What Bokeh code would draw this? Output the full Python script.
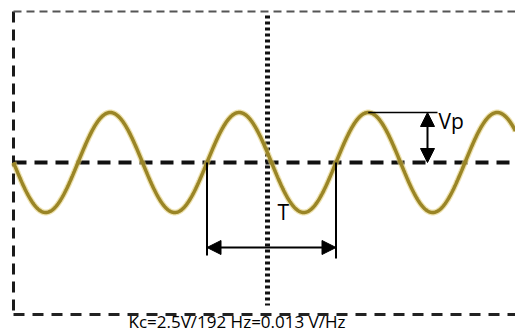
import numpy as np
from bokeh.plotting import figure
from bokeh.models import Range1d, Arrow, NormalHead, Label
from bokeh.embed import file_html
from bokeh.resources import INLINE

# --- Data (screen units, zero line = 0 V level) ---
wave_start = 13         # falling zero crossing at left edge
wave_period = 129       # T
wave_amplitude = 50     # Vp
wave_end = 515

# measurement markers
vp_arrow_x = [427]
t_arrow_y = [-85]
t_cross_x = [206.5, 335.5]
t_bracket_bottom = [-93, -96]

caption = "Kc=2.5V/192 Hz=0.013 V/Hz"

W, H = 515, 333
p = figure(width=W, height=H, output_backend="svg", toolbar_location=None,
           x_range=Range1d(0, W), y_range=Range1d(162 - H, 162),
           min_border=0, outline_line_color=None)
p.axis.visible = False
p.grid.visible = False
p.background_fill_color = "white"
p.border_fill_color = "white"

# frame (dashed)
p.line([13, 13], [151, -152], line_color="#1a1a1a", line_width=3, line_dash="11 7")
p.line([13, 515], [151, 151], line_color="#555555", line_width=2, line_dash="8 5")
p.line([13, 515], [-152, -152], line_color="#222222", line_width=3, line_dash="11 8")
# centre axes
p.line([13, 515], [0, 0], line_color="#111111", line_width=4, line_dash="13 8")
p.line([267, 267], [147, -143], line_color="#111111", line_width=5, line_dash="3 3")

# waveform
x = np.linspace(wave_start, wave_end, 800)
y = -wave_amplitude * np.sin(2 * np.pi * (x - wave_start) / wave_period)
p.line(x, y, line_color="#e3cf7a", line_width=6, line_alpha=0.6)
p.line(x, y, line_color="#9a8526", line_width=3.5)

# Vp marker
peak_x = wave_start + wave_period * 2.75
p.line([peak_x, vp_arrow_x[0] + 10], [wave_amplitude, wave_amplitude],
       line_color="black", line_width=1.5)
p.add_layout(Arrow(x_start=vp_arrow_x[0], y_start=wave_amplitude,
                   x_end=vp_arrow_x[0], y_end=0,
                   start=NormalHead(size=14, fill_color="black", line_color="black"),
                   end=NormalHead(size=14, fill_color="black", line_color="black"),
                   line_color="black", line_width=2))
p.add_layout(Label(x=vp_arrow_x[0] + 11, y=wave_amplitude - 8, text="Vp",
                   text_font="Open Sans", text_font_size="21px",
                   text_baseline="middle", text_color="black"))

# T marker
for cx, cb in zip(t_cross_x, t_bracket_bottom):
    p.line([cx, cx], [0, cb], line_color="black", line_width=2)
p.add_layout(Arrow(x_start=t_cross_x[0], y_start=t_arrow_y[0],
                   x_end=t_cross_x[1], y_end=t_arrow_y[0],
                   start=NormalHead(size=14, fill_color="black", line_color="black"),
                   end=NormalHead(size=14, fill_color="black", line_color="black"),
                   line_color="black", line_width=2))
p.add_layout(Label(x=277, y=-49, text="T",
                   text_font="Open Sans", text_font_size="21px",
                   text_baseline="middle", text_color="black"))

# caption (sits just under the frame)
p.add_layout(Label(x=128, y=162 - H + 1, text=caption,
                   text_font="Open Sans", text_font_size="17px",
                   text_baseline="bottom", text_color="black"))

open("out.html", "w").write(file_html(p, INLINE))
